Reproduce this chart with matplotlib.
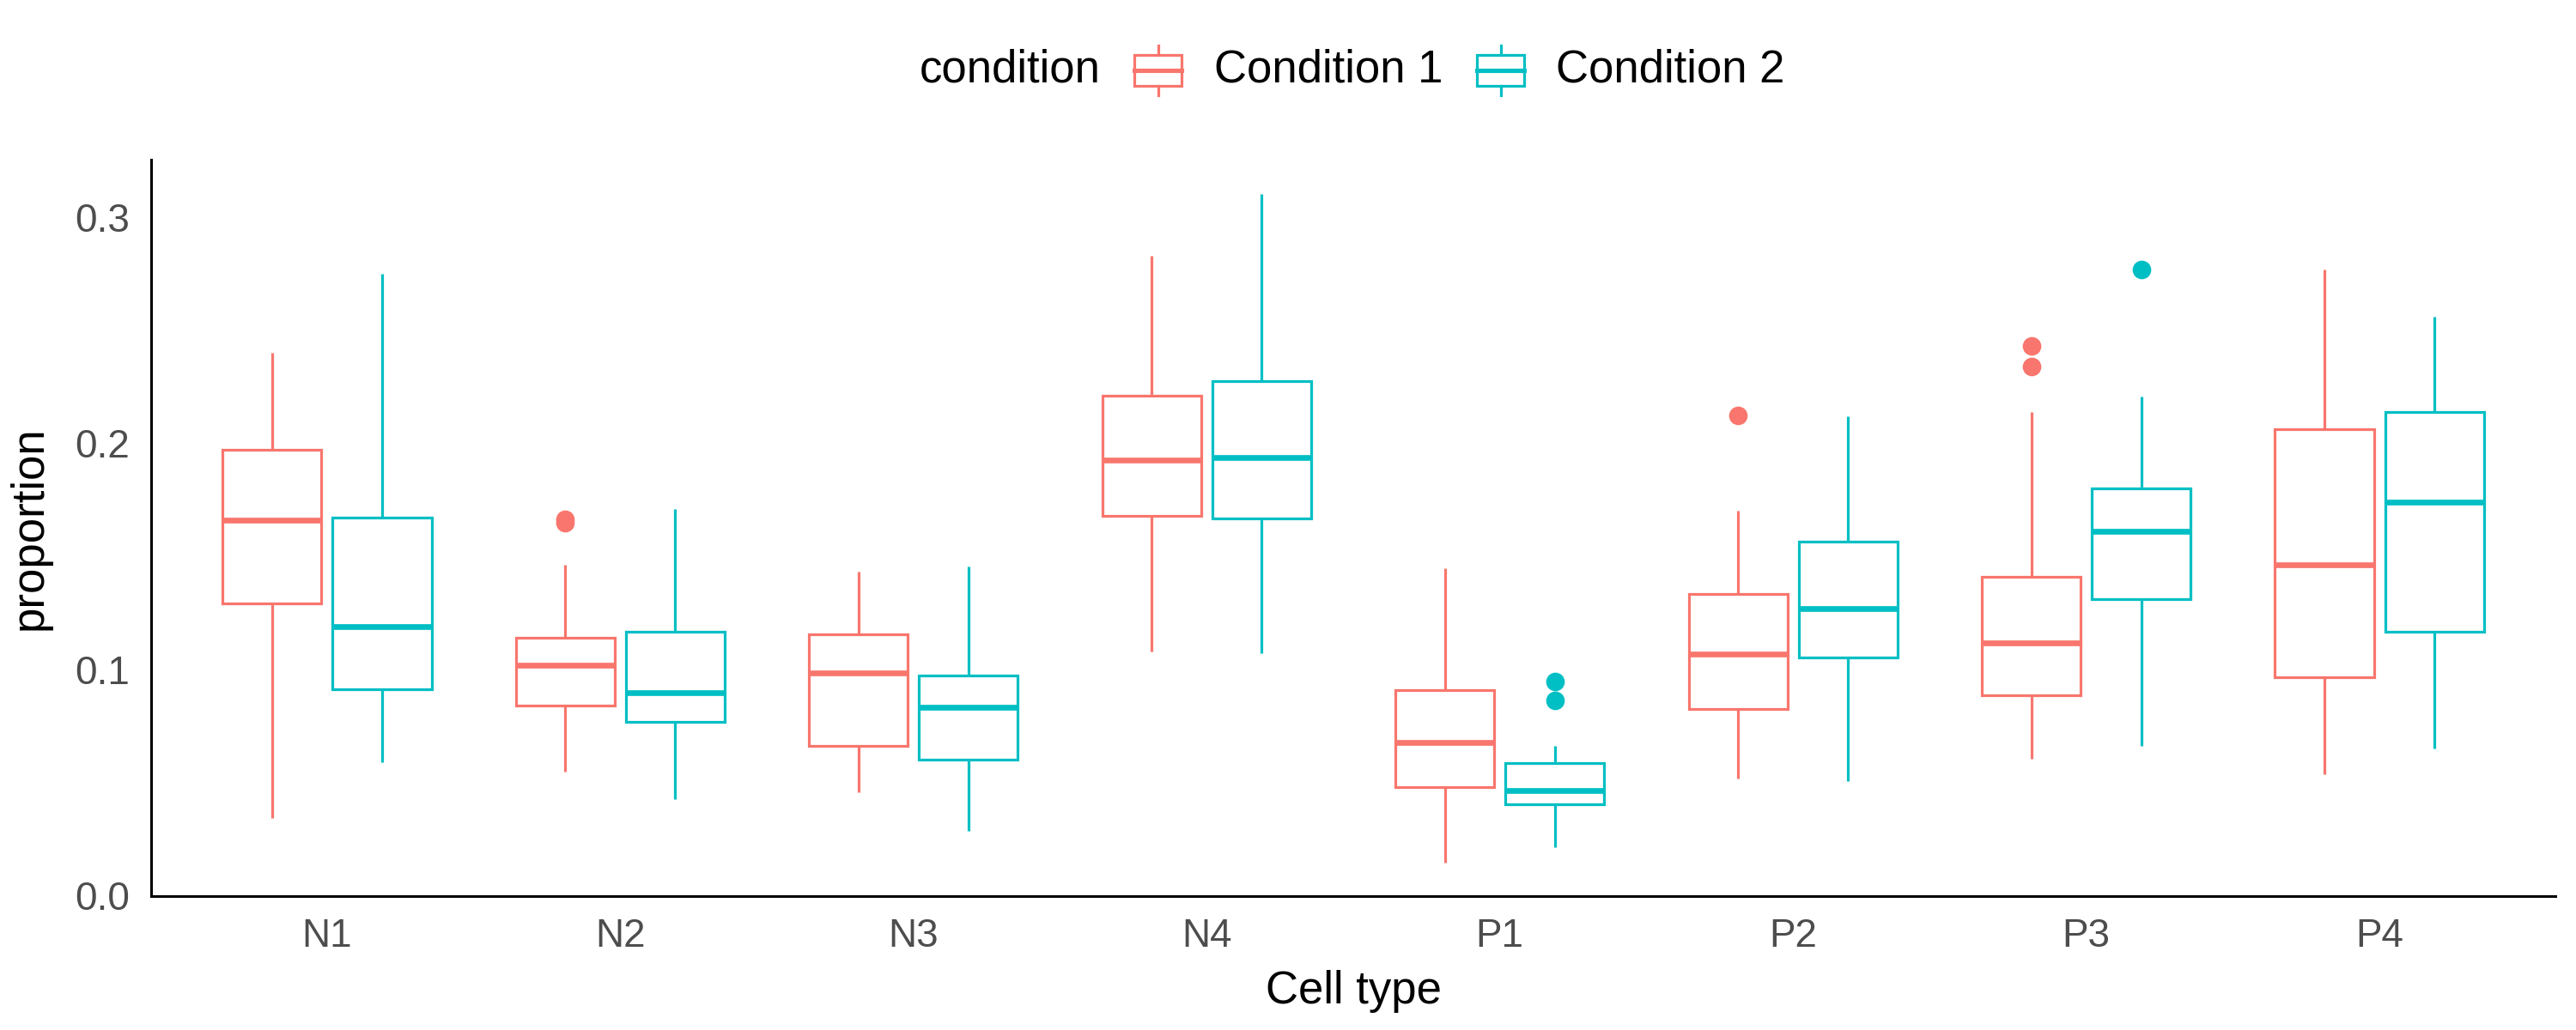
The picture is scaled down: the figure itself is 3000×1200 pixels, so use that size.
import matplotlib
matplotlib.use("Agg")
import matplotlib.pyplot as plt
from matplotlib.patches import Rectangle
from matplotlib.lines import Line2D

plt.rcParams['font.family'] = ['Liberation Sans', 'DejaVu Sans']

cell_types = ["N1", "N2", "N3", "N4", "P1", "P2", "P3", "P4"]
conditions = ["Condition 1", "Condition 2"]
colors = ["#F8766D", "#00BFC4"]

# Condition 1 box statistics
c1_whislo = [0.034, 0.0545, 0.0457, 0.108, 0.0145, 0.0517, 0.0605, 0.0536]
c1_q1     = [0.129, 0.084, 0.0662, 0.1678, 0.048, 0.0823, 0.0885, 0.0966]
c1_med    = [0.166, 0.1016, 0.0982, 0.1926, 0.0676, 0.1067, 0.1115, 0.146]
c1_q3     = [0.197, 0.114, 0.1154, 0.2211, 0.0906, 0.1333, 0.1407, 0.206]
c1_whishi = [0.240, 0.146, 0.143, 0.283, 0.1446, 0.170, 0.2138, 0.2768]
c1_out    = [[], [0.1648, 0.1662], [], [], [], [0.2124], [0.2338, 0.243], []]

# Condition 2 box statistics
c2_whislo = [0.059, 0.0425, 0.0283, 0.1069, 0.0211, 0.0506, 0.066, 0.065]
c2_q1     = [0.091, 0.0766, 0.0598, 0.1667, 0.0402, 0.105, 0.1308, 0.1166]
c2_med    = [0.119, 0.0897, 0.0832, 0.1938, 0.0462, 0.1267, 0.1609, 0.174]
c2_q3     = [0.167, 0.1166, 0.0972, 0.2274, 0.0584, 0.1563, 0.180, 0.2138]
c2_whishi = [0.275, 0.171, 0.1453, 0.3103, 0.066, 0.212, 0.2205, 0.2559]
c2_out    = [[], [], [], [], [0.0862, 0.0945], [], [0.2768], []]

y_ticks = [0.0, 0.1, 0.2, 0.3]

fig = plt.figure(figsize=(15, 6), dpi=200)
ax = fig.add_axes([176/3000, 156/1200, (2976-176)/3000, (1044-186)/1200])

series = [
    (c1_whislo, c1_q1, c1_med, c1_q3, c1_whishi, c1_out),
    (c2_whislo, c2_q1, c2_med, c2_q3, c2_whishi, c2_out),
]
offsets = [-0.1875, 0.1875]
box_w = 0.3375
lw = 1.15

for s, (wl, q1, med, q3, wh, out) in enumerate(series):
    stats = []
    for i in range(len(cell_types)):
        stats.append(dict(whislo=wl[i], q1=q1[i], med=med[i], q3=q3[i],
                          whishi=wh[i], fliers=out[i]))
    pos = [i + 1 + offsets[s] for i in range(len(cell_types))]
    c = colors[s]
    ax.bxp(stats, positions=pos, widths=box_w, showcaps=False,
           patch_artist=True, manage_ticks=False,
           boxprops=dict(facecolor="white", edgecolor=c, linewidth=lw),
           whiskerprops=dict(color=c, linewidth=lw, solid_capstyle="butt"),
           medianprops=dict(color=c, linewidth=2.4, solid_capstyle="butt"),
           flierprops=dict(marker="o", markerfacecolor=c, markeredgecolor=c,
                           markersize=6.8, linestyle="none"))

ax.set_xlim(0.4, 8.6)
ax.set_ylim(-0.0004, 0.3254)
ax.set_xticks(range(1, len(cell_types) + 1))
ax.set_xticklabels(cell_types)
ax.set_yticks(y_ticks)
ax.set_yticklabels([f"{v:.1f}" for v in y_ticks])
ax.tick_params(axis="both", length=0, labelsize=16.5, labelcolor="#4D4D4D")
ax.tick_params(axis="x", pad=9)
ax.tick_params(axis="y", pad=9)
for side in ["top", "right"]:
    ax.spines[side].set_visible(False)
for side in ["left", "bottom"]:
    ax.spines[side].set_linewidth(1.1)
    ax.spines[side].set_color("black")
ax.set_xlabel("Cell type", fontsize=19, labelpad=6)
ax.set_ylabel("proportion", fontsize=19, labelpad=10)

# Legend (drawn at the top, ggplot style)
H, W = 1200, 3000
def fx(px):
    return px / W
def fy(py):
    return 1 - py / H

yc = 82
fig.text(fx(1071), fy(yc), "condition", fontsize=19, va="center", ha="left")
key_lefts = [1321, 1720]
text_lefts = [1414, 1812]
for s in range(2):
    c = colors[s]
    x0, x1 = key_lefts[s], key_lefts[s] + 55
    xm = (x0 + x1) / 2
    fig.add_artist(Rectangle((fx(x0), fy(yc + 18)), fx(x1) - fx(x0), fy(yc - 18) - fy(yc + 18),
                             transform=fig.transFigure, facecolor="white",
                             edgecolor=c, linewidth=lw))
    fig.add_artist(Line2D([fx(xm), fx(xm)], [fy(yc - 29), fy(yc - 18)], transform=fig.transFigure,
                          color=c, linewidth=lw))
    fig.add_artist(Line2D([fx(xm), fx(xm)], [fy(yc + 18), fy(yc + 29)], transform=fig.transFigure,
                          color=c, linewidth=lw))
    fig.add_artist(Line2D([fx(x0), fx(x1)], [fy(yc), fy(yc)], transform=fig.transFigure,
                          color=c, linewidth=lw * 1.6))
    fig.text(fx(text_lefts[s]), fy(yc), conditions[s], fontsize=19, va="center", ha="left")

fig.savefig("out.png", dpi=200, facecolor="white")
